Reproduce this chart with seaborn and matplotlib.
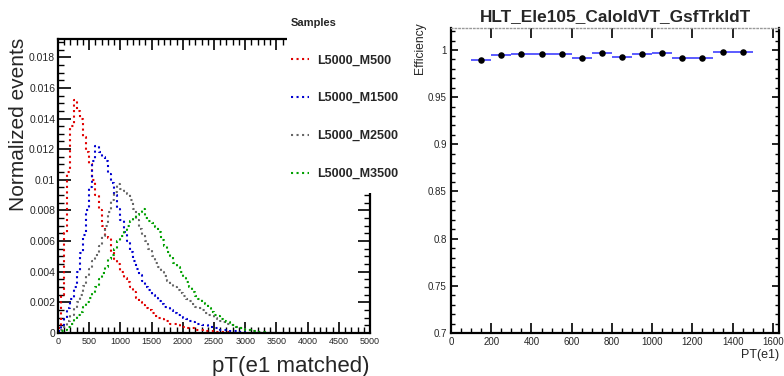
import numpy as np
import pandas as pd
import matplotlib
matplotlib.use("Agg")
import matplotlib.pyplot as plt
from matplotlib.patches import Rectangle
from matplotlib.lines import Line2D
from matplotlib.ticker import MultipleLocator, FuncFormatter
import seaborn as sns

# ---------------- data ----------------
bin_edges = list(range(0, 3501, 50))
bin_centers = [e + 25 for e in bin_edges[:-1]]

samples = ["L5000_M500", "L5000_M1500", "L5000_M2500", "L5000_M3500"]
colors = ["#e00000", "#0000d0", "#666666", "#00a000"]

m500 = [0.0003, 0.0025, 0.0065, 0.0105, 0.0135, 0.0152, 0.0145, 0.0140, 0.0128, 0.0118,
        0.0110, 0.0100, 0.0090, 0.0080, 0.0070, 0.0063, 0.0062, 0.0053, 0.0048, 0.0045,
        0.0040, 0.0036, 0.0033, 0.0030, 0.0027, 0.0023, 0.0020, 0.0018, 0.0016, 0.0015,
        0.0013, 0.0011, 0.0010, 0.0009, 0.0008, 0.0008, 0.0006, 0.0006, 0.0005, 0.0004,
        0.0004, 0.0003, 0.0003, 0.0003, 0.0002, 0.0002, 0.0002, 0.00015, 0.00012, 0.0001,
        0.0001, 0.00008, 0.00006, 0.00005, 0.00004, 0.00003, 0.00002, 0.00002, 0.00001, 0.00001,
        0, 0, 0, 0, 0, 0, 0, 0, 0, 0]
m1500 = [0.0001, 0.0005, 0.0010, 0.0016, 0.0022, 0.0030, 0.0040, 0.0052, 0.0064, 0.0080,
         0.0095, 0.0112, 0.0122, 0.0118, 0.0115, 0.0112, 0.0104, 0.0098, 0.0090, 0.0081,
         0.0074, 0.0066, 0.0060, 0.0053, 0.0047, 0.0042, 0.0038, 0.0034, 0.0030, 0.0028,
         0.0025, 0.0023, 0.0021, 0.0019, 0.0017, 0.0016, 0.0015, 0.0013, 0.0012, 0.0011,
         0.0010, 0.0009, 0.0008, 0.0007, 0.0006, 0.0006, 0.0005, 0.0005, 0.0004, 0.0004,
         0.0003, 0.0003, 0.0002, 0.0002, 0.0002, 0.00015, 0.0001, 0.0001, 0.00006, 0.00004,
         0.00003, 0.00002, 0.00001, 0, 0, 0, 0, 0, 0, 0]
m2500 = [0.0, 0.0002, 0.0004, 0.0008, 0.0012, 0.0016, 0.0020, 0.0025, 0.0031, 0.0037,
         0.0042, 0.0047, 0.0051, 0.0057, 0.0063, 0.0070, 0.0079, 0.0087, 0.0092, 0.0097,
         0.0094, 0.0093, 0.0091, 0.0087, 0.0081, 0.0074, 0.0068, 0.0064, 0.0060, 0.0055,
         0.0050, 0.0046, 0.0043, 0.0040, 0.0037, 0.0034, 0.0032, 0.0030, 0.0028, 0.0026,
         0.0024, 0.0022, 0.0021, 0.0019, 0.0017, 0.0016, 0.0015, 0.0013, 0.0012, 0.0011,
         0.0010, 0.0009, 0.0008, 0.0007, 0.0006, 0.0005, 0.0005, 0.0004, 0.0003, 0.0003,
         0.0002, 0.0002, 0.00015, 0.0001, 0.00008, 0.00005, 0.00003, 0.00002, 0.00001, 0.0]
m3500 = [0.0, 0.0001, 0.0002, 0.0004, 0.0006, 0.0009, 0.0012, 0.0014, 0.0017, 0.0020,
         0.0023, 0.0026, 0.0030, 0.0035, 0.0039, 0.0043, 0.0048, 0.0051, 0.0055, 0.0060,
         0.0063, 0.0067, 0.0070, 0.0073, 0.0075, 0.0077, 0.0079, 0.0081, 0.0075, 0.0073,
         0.0072, 0.0069, 0.0066, 0.0061, 0.0057, 0.0053, 0.0050, 0.0046, 0.0043, 0.0040,
         0.0036, 0.0033, 0.0030, 0.0027, 0.0024, 0.0022, 0.0020, 0.0019, 0.0016, 0.0014,
         0.0012, 0.0011, 0.0009, 0.0008, 0.0007, 0.0006, 0.0005, 0.0004, 0.0003, 0.0003,
         0.0002, 0.0002, 0.00015, 0.0001, 0.00008, 0.00006, 0.00004, 0.00003, 0.00002, 0.00001]
series = [m500, m1500, m2500, m3500]

eff_pt = [150, 250, 350, 450, 550, 650, 750, 850, 950, 1050, 1150, 1250, 1350, 1450]
eff_val = [0.9895, 0.9948, 0.9955, 0.9955, 0.9955, 0.9913, 0.9972, 0.9930, 0.9955,
           0.9965, 0.9913, 0.9913, 0.9979, 0.9976]
eff_halfwidth = 50

left_xticks = [0, 500, 1000, 1500, 2000, 2500, 3000, 3500, 4000, 4500, 5000]
left_yticks = [0, 0.002, 0.004, 0.006, 0.008, 0.01, 0.012, 0.014, 0.016, 0.018]
right_xticks = [0, 200, 400, 600, 800, 1000, 1200, 1400, 1600]
right_yticks = [0.7, 0.75, 0.8, 0.85, 0.9, 0.95, 1.0]

# ---------------- style ----------------
sns.set_style("ticks")
plt.rcParams['font.family'] = ['Liberation Sans', 'DejaVu Sans']

fig = plt.figure(figsize=(7.84, 3.76), dpi=100)
W, H = 784, 376
def ax_rect(x0, y0, x1, y1):
    return [x0 / W, 1 - y1 / H, (x1 - x0) / W, (y1 - y0) / H]

ax1 = fig.add_axes(ax_rect(58, 39.3, 370, 333))
ax2 = fig.add_axes(ax_rect(451, 28.3, 779.3, 333))

fmt = FuncFormatter(lambda v, p: "%g" % v)

# ---------------- left panel ----------------
df = pd.DataFrame({
    "pt": np.tile(bin_centers, len(samples)),
    "w": np.concatenate([np.asarray(s, float) for s in series]),
    "sample": np.repeat(samples, len(bin_centers)),
})
for name, col in zip(samples, colors):
    sub = df[df["sample"] == name]
    sns.histplot(data=sub, x="pt", weights="w", bins=bin_edges, element="step",
                 fill=False, color=col, linestyle=":", linewidth=1.5, ax=ax1)

ax1.set_xlim(0, 5000)
ax1.set_ylim(0, 0.01917)
ax1.set_xticks(left_xticks)
ax1.set_yticks(left_yticks)
ax1.xaxis.set_minor_locator(MultipleLocator(100))
ax1.yaxis.set_minor_locator(MultipleLocator(0.0005))
ax1.xaxis.set_major_formatter(fmt)
ax1.yaxis.set_major_formatter(fmt)
ax1.tick_params(axis='both', which='both', direction='in', top=True, right=True, color='black')
ax1.tick_params(axis='x', which='major', length=8, width=1.2, labelsize=6.5, pad=3)
ax1.tick_params(axis='y', which='major', length=9, width=1.2, labelsize=7.5, pad=2)
ax1.tick_params(axis='both', which='minor', length=4.5, width=1.0)
for sp in ax1.spines.values():
    sp.set_linewidth(1.6)
    sp.set_color('black')
ax1.set_xlabel("pT(e1 matched)", fontsize=16, loc='right', labelpad=7)
ax1.set_ylabel("Normalized events", fontsize=15, loc='top', labelpad=0)
ax1.yaxis.set_label_coords(-0.096, 1.005)

# white box covering the upper right corner (legend area)
fig.patches.append(Rectangle((287 / W, 1 - 193 / H), (395 - 287) / W, 193 / H,
                             transform=fig.transFigure, facecolor='white',
                             edgecolor='none', zorder=3))
handles = [Line2D([], [], color=c, linestyle=':', linewidth=1.5) for c in colors]
leg = fig.legend(handles, samples, loc='upper left', bbox_to_anchor=(291 / W, 1 - 18.5 / H),
                 frameon=False, title="Samples", prop={'weight': 'bold', 'size': 9},
                 title_fontproperties={'weight': 'bold', 'size': 8},
                 handlelength=1.45, handletextpad=0.6, labelspacing=2.07,
                 borderpad=0, borderaxespad=0, alignment='left')
leg.set_zorder(4)

# ---------------- right panel ----------------
ax2.errorbar(eff_pt, eff_val, xerr=eff_halfwidth, fmt='none', ecolor='#3030ff',
             elinewidth=1.3, capsize=0, alpha=0.85)
sns.scatterplot(x=eff_pt, y=eff_val, color='black', s=22, edgecolor='black',
                linewidth=0, ax=ax2, zorder=5)
ax2.set_xlim(0, 1632)
ax2.set_ylim(0.7, 1.023)
ax2.set_xticks(right_xticks)
ax2.set_yticks(right_yticks)
ax2.xaxis.set_minor_locator(MultipleLocator(50))
ax2.yaxis.set_minor_locator(MultipleLocator(0.01))
ax2.xaxis.set_major_formatter(fmt)
ax2.yaxis.set_major_formatter(fmt)
ax2.tick_params(axis='both', which='both', direction='in', right=True, color='black')
ax2.tick_params(axis='x', which='major', length=7, width=1.2, labelsize=7, pad=3, top=True)
ax2.tick_params(axis='x', which='minor', length=3.5, width=1.0, top=False)
ax2.tick_params(axis='y', which='major', length=5, width=1.2, labelsize=7, pad=3)
ax2.tick_params(axis='y', which='minor', length=3, width=1.0)
for k in ['left', 'bottom', 'right']:
    ax2.spines[k].set_linewidth(1.6)
    ax2.spines[k].set_color('black')
ax2.spines['top'].set_linestyle(':')
ax2.spines['top'].set_color('#999999')
ax2.spines['top'].set_linewidth(1.0)
ax2.set_xlabel("PT(e1)", fontsize=9, loc='right', labelpad=1)
ax2.set_ylabel("Efficiency", fontsize=8.7, loc='top', labelpad=0)
ax2.yaxis.set_label_coords(-0.075, 1.02)
ax2.set_title("HLT_Ele105_CaloIdVT_GsfTrkIdT", fontsize=12.4, fontweight='bold', pad=5)

fig.savefig("out.png", dpi=100)
